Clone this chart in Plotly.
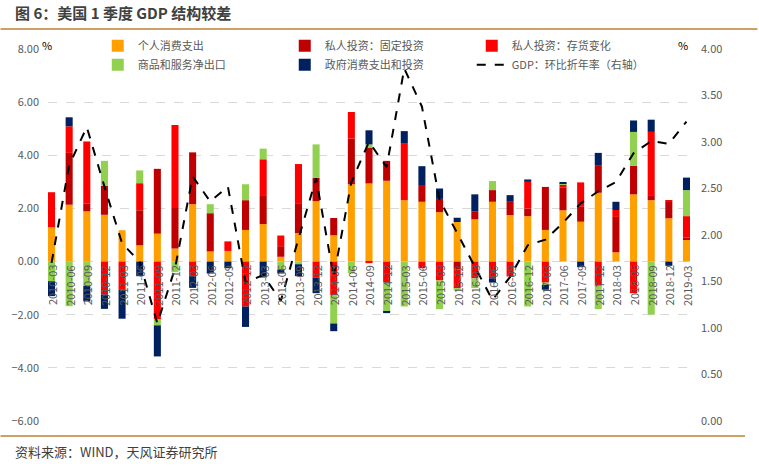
import plotly.graph_objects as go

quarters = [
    "2010-03", "2010-06", "2010-09", "2010-12",
    "2011-03", "2011-06", "2011-09", "2011-12",
    "2012-03", "2012-06", "2012-09", "2012-12",
    "2013-03", "2013-06", "2013-09", "2013-12",
    "2014-03", "2014-06", "2014-09", "2014-12",
    "2015-03", "2015-06", "2015-09", "2015-12",
    "2016-03", "2016-06", "2016-09", "2016-12",
    "2017-03", "2017-06", "2017-09", "2017-12",
    "2018-03", "2018-06", "2018-09", "2018-12",
    "2019-03",
]

# 对GDP的拉动 (%)
pce = [1.29, 2.14, 1.89, 1.76, 1.18, 0.61, 1.05, 0.49, 2.16, 0.38, 0.40, 1.19,
       1.41, 0.18, 1.07, 2.27, 0.99, 2.91, 2.94, 3.04, 2.31, 2.25, 1.86, 1.49,
       1.59, 2.25, 1.75, 1.71, 1.19, 1.93, 1.50, 2.59, 0.35, 2.53, 2.31, 1.63,
       0.81]
fixed_inv = [0.00, 1.95, 0.30, 1.09, 0.00, 1.32, 2.44, 1.56, 1.95, 1.44, 0.00, 1.12,
             1.09, 0.40, 1.10, 0.88, 0.65, 1.72, 1.35, 0.75, 0.00, 0.60, 0.50, -0.30,
             0.29, 0.44, 0.50, 0.29, 1.62, 0.85, 0.56, 1.04, 1.33, 1.07, 0.19, 0.62,
             0.10]
inventory = [1.32, 1.00, 2.33, -1.24, -1.05, 1.02, -2.18, 3.09, -0.55, 0.00, 0.36, -1.69,
             1.35, 0.40, 1.50, -0.60, -1.27, 1.00, -0.06, -0.79, 2.15, -0.25, -0.71, -0.70,
             -0.63, -0.63, -0.56, 1.00, -0.79, 0.12, 0.92, -0.91, 0.26, -1.19, 2.38, 0.06,
             0.80]
net_exports = [-0.74, -1.68, -0.92, 0.94, 0.00, 0.48, -0.22, -0.40, 0.00, 0.34, 0.00, 0.60,
               0.40, -0.30, -0.10, 1.26, -1.06, -0.44, 0.12, -1.09, -1.69, 0.00, -1.08, -0.09,
               -0.37, 0.34, 0.00, -1.69, -0.09, 0.03, 0.00, -0.88, 0.00, 1.28, -2.00, 0.00,
               0.98]
government = [-0.56, 0.34, -0.58, -0.54, -1.10, -0.55, -1.17, 0.00, -0.44, -0.45, -0.25, -0.77,
              -0.60, -0.15, -0.45, -0.59, -0.29, 0.00, 0.53, -0.06, 0.45, 0.74, 0.39, 0.16,
              0.65, -0.16, 0.25, 0.09, -0.18, 0.05, -0.21, 0.46, 0.31, 0.43, 0.46, -0.16,
              0.47]
gdp = [1.70, 2.75, 3.16, 2.52, 1.91, 1.71, 1.05, 1.64, 2.63, 2.36, 2.52, 1.49,
       1.57, 1.29, 1.96, 2.61, 1.55, 2.57, 3.00, 2.73, 3.79, 3.38, 2.38, 2.02,
       1.66, 1.30, 1.55, 1.89, 1.95, 2.13, 2.34, 2.47, 2.57, 2.88, 3.01, 2.98,
       3.22]

FONT = "Noto Sans CJK SC"
GREY = "#595959"
RULE = "#CFA065"

fig = go.Figure()

bars = [
    ("个人消费支出", pce, "#FFA000"),
    ("私人投资：固定投资", fixed_inv, "#C00000"),
    ("私人投资：存货变化", inventory, "#FF0000"),
    ("商品和服务净出口", net_exports, "#92D050"),
    ("政府消费支出和投资", government, "#002060"),
]
for name, vals, color in bars:
    fig.add_trace(go.Bar(x=quarters, y=vals, name=name, marker_color=color,
                         marker_line_width=0))

fig.add_trace(go.Scatter(x=quarters, y=gdp, name="GDP：环比折年率（右轴）",
                         mode="lines", yaxis="y2",
                         line=dict(color="black", width=2, dash="dash")))

# x轴标签放在0轴处
annotations = []
for q in quarters:
    annotations.append(dict(x=q, y=0, xref="x", yref="y", text=q, showarrow=False,
                            textangle=-90, xanchor="center", yanchor="top", yshift=-2,
                            font=dict(family=FONT, size=11, color=GREY)))

annotations += [
    dict(x=-0.0016, y=1.0108, xref="paper", yref="paper", text="%", showarrow=False,
         xanchor="center", yanchor="middle", font=dict(family=FONT, size=11, color="black")),
    dict(x=0.989, y=1.0108, xref="paper", yref="paper", text="%", showarrow=False,
         xanchor="center", yanchor="middle", font=dict(family=FONT, size=11, color="black")),
    dict(x=-0.0545, y=-0.0833, xref="paper", yref="paper", text="资料来源：WIND，天风证券研究所",
         showarrow=False, xanchor="left", yanchor="middle",
         font=dict(family=FONT, size=13, color="#404040")),
    dict(x=-0.0545, y=1.0968, xref="paper", yref="paper",
         text="<b>图 6：美国 1 季度 GDP 结构较差</b>", showarrow=False,
         xanchor="left", yanchor="middle", font=dict(family=FONT, size=15, color="#404040")),
]

fig.update_layout(
    width=759, height=470,
    margin=dict(l=48, r=69, t=49, b=49, autoexpand=False),
    paper_bgcolor="white", plot_bgcolor="white",
    barmode="relative", bargap=0.6,
    xaxis=dict(type="category", range=[-0.2, 36.2], showticklabels=False,
               showgrid=False, zeroline=False, showline=False, ticks=""),
    yaxis=dict(range=[-6, 8], dtick=2, tickformat=".2f", showgrid=True,
               gridcolor="#D9D9D9", griddash="dash", gridwidth=1, zeroline=False,
               ticks="", ticklabelstandoff=8, automargin=False,
               tickfont=dict(family=FONT, size=11, color=GREY)),
    yaxis2=dict(range=[0, 4], dtick=0.5, tickformat=".2f", overlaying="y", side="right",
                showgrid=False, zeroline=False, ticks="", ticklabelstandoff=10,
                automargin=False, tickfont=dict(family=FONT, size=11, color=GREY)),
    legend=dict(orientation="h", x=0.0775, xanchor="left", y=1.0476, yanchor="top",
                entrywidth=142, entrywidthmode="pixels", tracegroupgap=0,
                bgcolor="rgba(0,0,0,0)", traceorder="normal",
                font=dict(family=FONT, size=11, color=GREY)),
    annotations=annotations,
    shapes=[
        dict(type="line", xref="paper", yref="paper", x0=-0.074, x1=1.105,
             y0=1.0538, y1=1.0538, layer="above", line=dict(color=RULE, width=2)),
        dict(type="line", xref="paper", yref="paper", x0=-0.074, x1=1.0857,
             y0=-0.0403, y1=-0.0403, layer="above", line=dict(color=RULE, width=2)),
    ],
    showlegend=True,
)

# 去掉页面默认边距，使图表贴齐窗口左上角
fig.write_html("out.html", config={"displayModeBar": False},
               post_script="document.body.style.margin='0';")
